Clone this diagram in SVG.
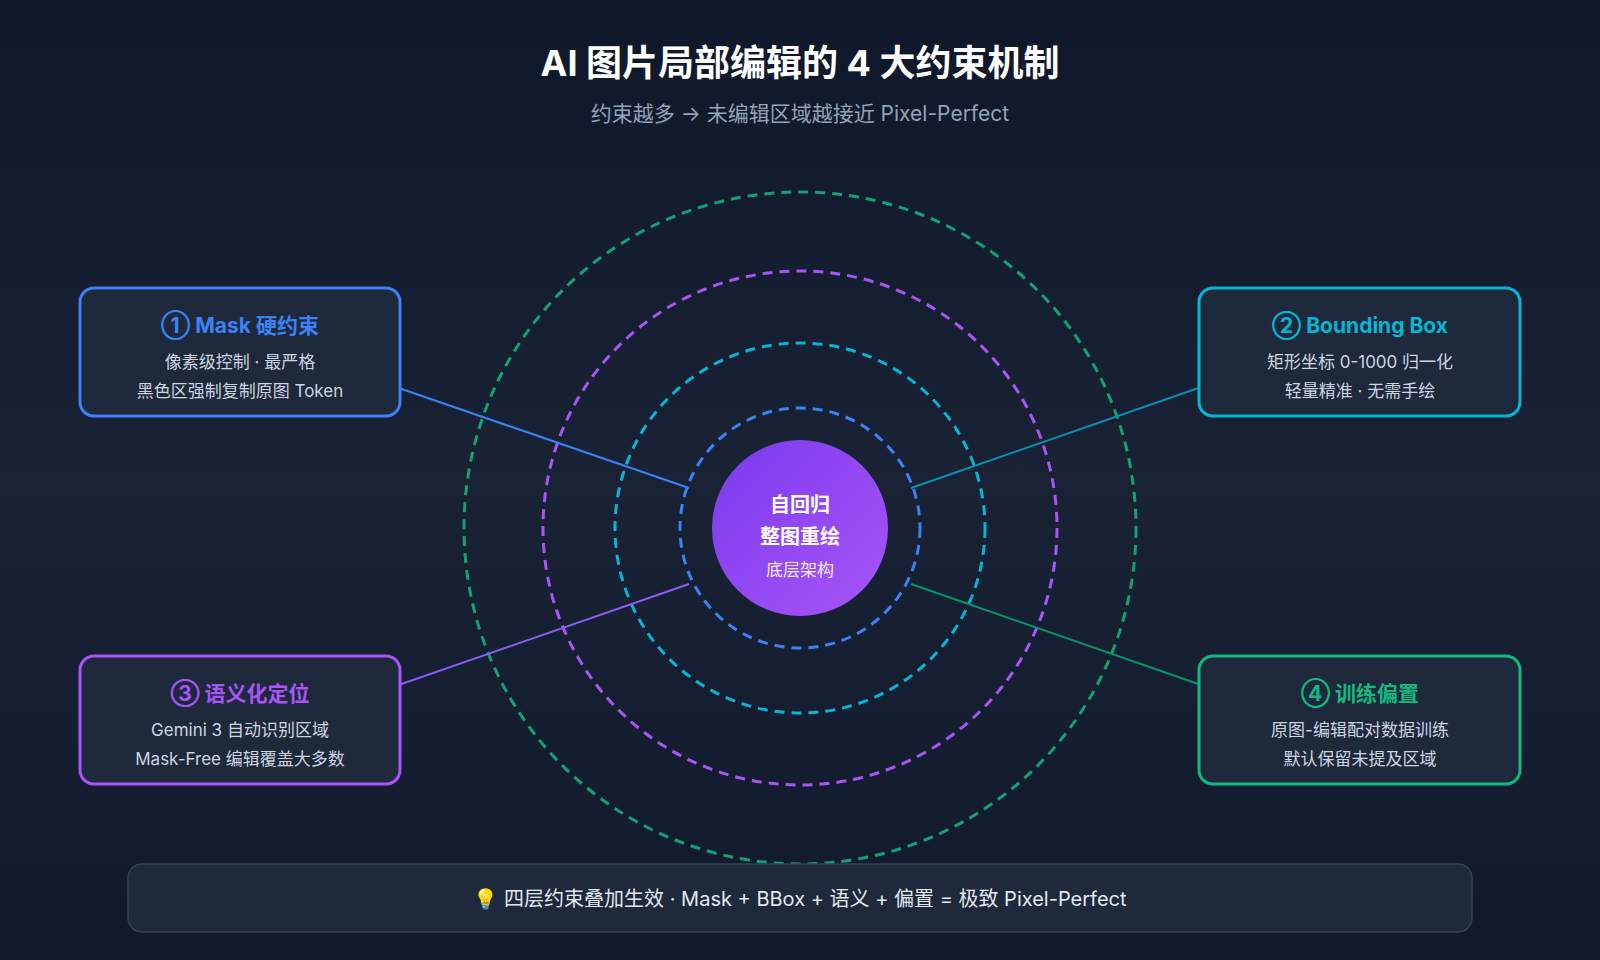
<svg xmlns="http://www.w3.org/2000/svg" width="1600" height="960" viewBox="0 0 1600 960">
<defs>
<linearGradient id="bg" x1="0" y1="0" x2="0" y2="1"><stop offset="0" stop-color="#0f172a"/><stop offset="0.5" stop-color="#1a2235"/><stop offset="1" stop-color="#111a2c"/></linearGradient>
<linearGradient id="core" x1="0" y1="0" x2="1" y2="1"><stop offset="0" stop-color="#7c3aed"/><stop offset="1" stop-color="#a855f7"/></linearGradient>
<style>
text{font-family:Inter,"Noto Sans CJK SC",sans-serif;text-anchor:middle}
.box{fill:#1e293b;stroke-width:3}
.h{font-size:21px;font-weight:700}
.d{font-size:17px;fill:#cbd5e1}
.ring{fill:none;stroke-width:3;stroke-dasharray:10 7}
.ln{stroke-width:2;fill:none}
</style>
</defs>
<rect width="1600" height="960" fill="url(#bg)"/>
<text x="800" y="76" font-size="36" font-weight="700" fill="#ffffff">AI 图片局部编辑的 4 大约束机制</text>
<text x="800" y="121" font-size="21" fill="#94a3b8">约束越多 → 未编辑区域越接近 Pixel-Perfect</text>
<g id="rings">
<circle class="ring" cx="800" cy="528" r="336" stroke="#10b981" stroke-opacity="0.85"/>
<circle class="ring" cx="800" cy="528" r="257" stroke="#a855f7"/>
<circle class="ring" cx="800" cy="528" r="185" stroke="#06b6d4"/>
<circle class="ring" cx="800" cy="528" r="120" stroke="#3b82f6"/>
</g>
<g id="connectors">
<line class="ln" x1="393" y1="386" x2="689" y2="488" stroke="#3b82f6"/>
<line class="ln" x1="1207" y1="385" x2="911" y2="488" stroke="#0891b2"/>
<line class="ln" x1="393" y1="687" x2="689" y2="584" stroke="#8b5cf6"/>
<line class="ln" x1="1207" y1="687" x2="911" y2="584" stroke="#059669"/>
</g>
<g id="core-node">
<circle cx="800" cy="528" r="88" fill="url(#core)"/>
<text x="800" y="512" font-size="20" font-weight="700" fill="#fff">自回归</text>
<text x="800" y="544" font-size="20" font-weight="700" fill="#fff">整图重绘</text>
<text x="800" y="576" font-size="17" fill="#f3e8ff">底层架构</text>
</g>
<g id="node1">
<rect class="box" x="80" y="288" width="320" height="128" rx="14" stroke="#3b82f6"/>
<text class="h" x="240" y="333" fill="#3b82f6">① Mask 硬约束</text>
<text class="d" x="240" y="368">像素级控制 · 最严格</text>
<text class="d" x="240" y="397">黑色区强制复制原图 Token</text>
</g>
<g id="node2">
<rect class="box" x="1199" y="288" width="321" height="128" rx="14" stroke="#06b6d4"/>
<text class="h" x="1360" y="333" fill="#06b6d4">② Bounding Box</text>
<text class="d" x="1360" y="368">矩形坐标 0-1000 归一化</text>
<text class="d" x="1360" y="397">轻量精准 · 无需手绘</text>
</g>
<g id="node3">
<rect class="box" x="80" y="656" width="320" height="128" rx="14" stroke="#a855f7"/>
<text class="h" x="240" y="701" fill="#a855f7">③ 语义化定位</text>
<text class="d" x="240" y="736">Gemini 3 自动识别区域</text>
<text class="d" x="240" y="765">Mask-Free 编辑覆盖大多数</text>
</g>
<g id="node4">
<rect class="box" x="1199" y="656" width="321" height="128" rx="14" stroke="#10b981"/>
<text class="h" x="1360" y="701" fill="#10b981">④ 训练偏置</text>
<text class="d" x="1360" y="736">原图-编辑配对数据训练</text>
<text class="d" x="1360" y="765">默认保留未提及区域</text>
</g>
<g id="footer">
<rect x="128" y="864" width="1344" height="68" rx="14" fill="#1e293b" stroke="#334155" stroke-width="1.5"/>
<text x="800" y="906" font-size="20" fill="#e2e8f0">💡 四层约束叠加生效 · Mask + BBox + 语义 + 偏置 = 极致 Pixel-Perfect</text>
</g>
</svg>
